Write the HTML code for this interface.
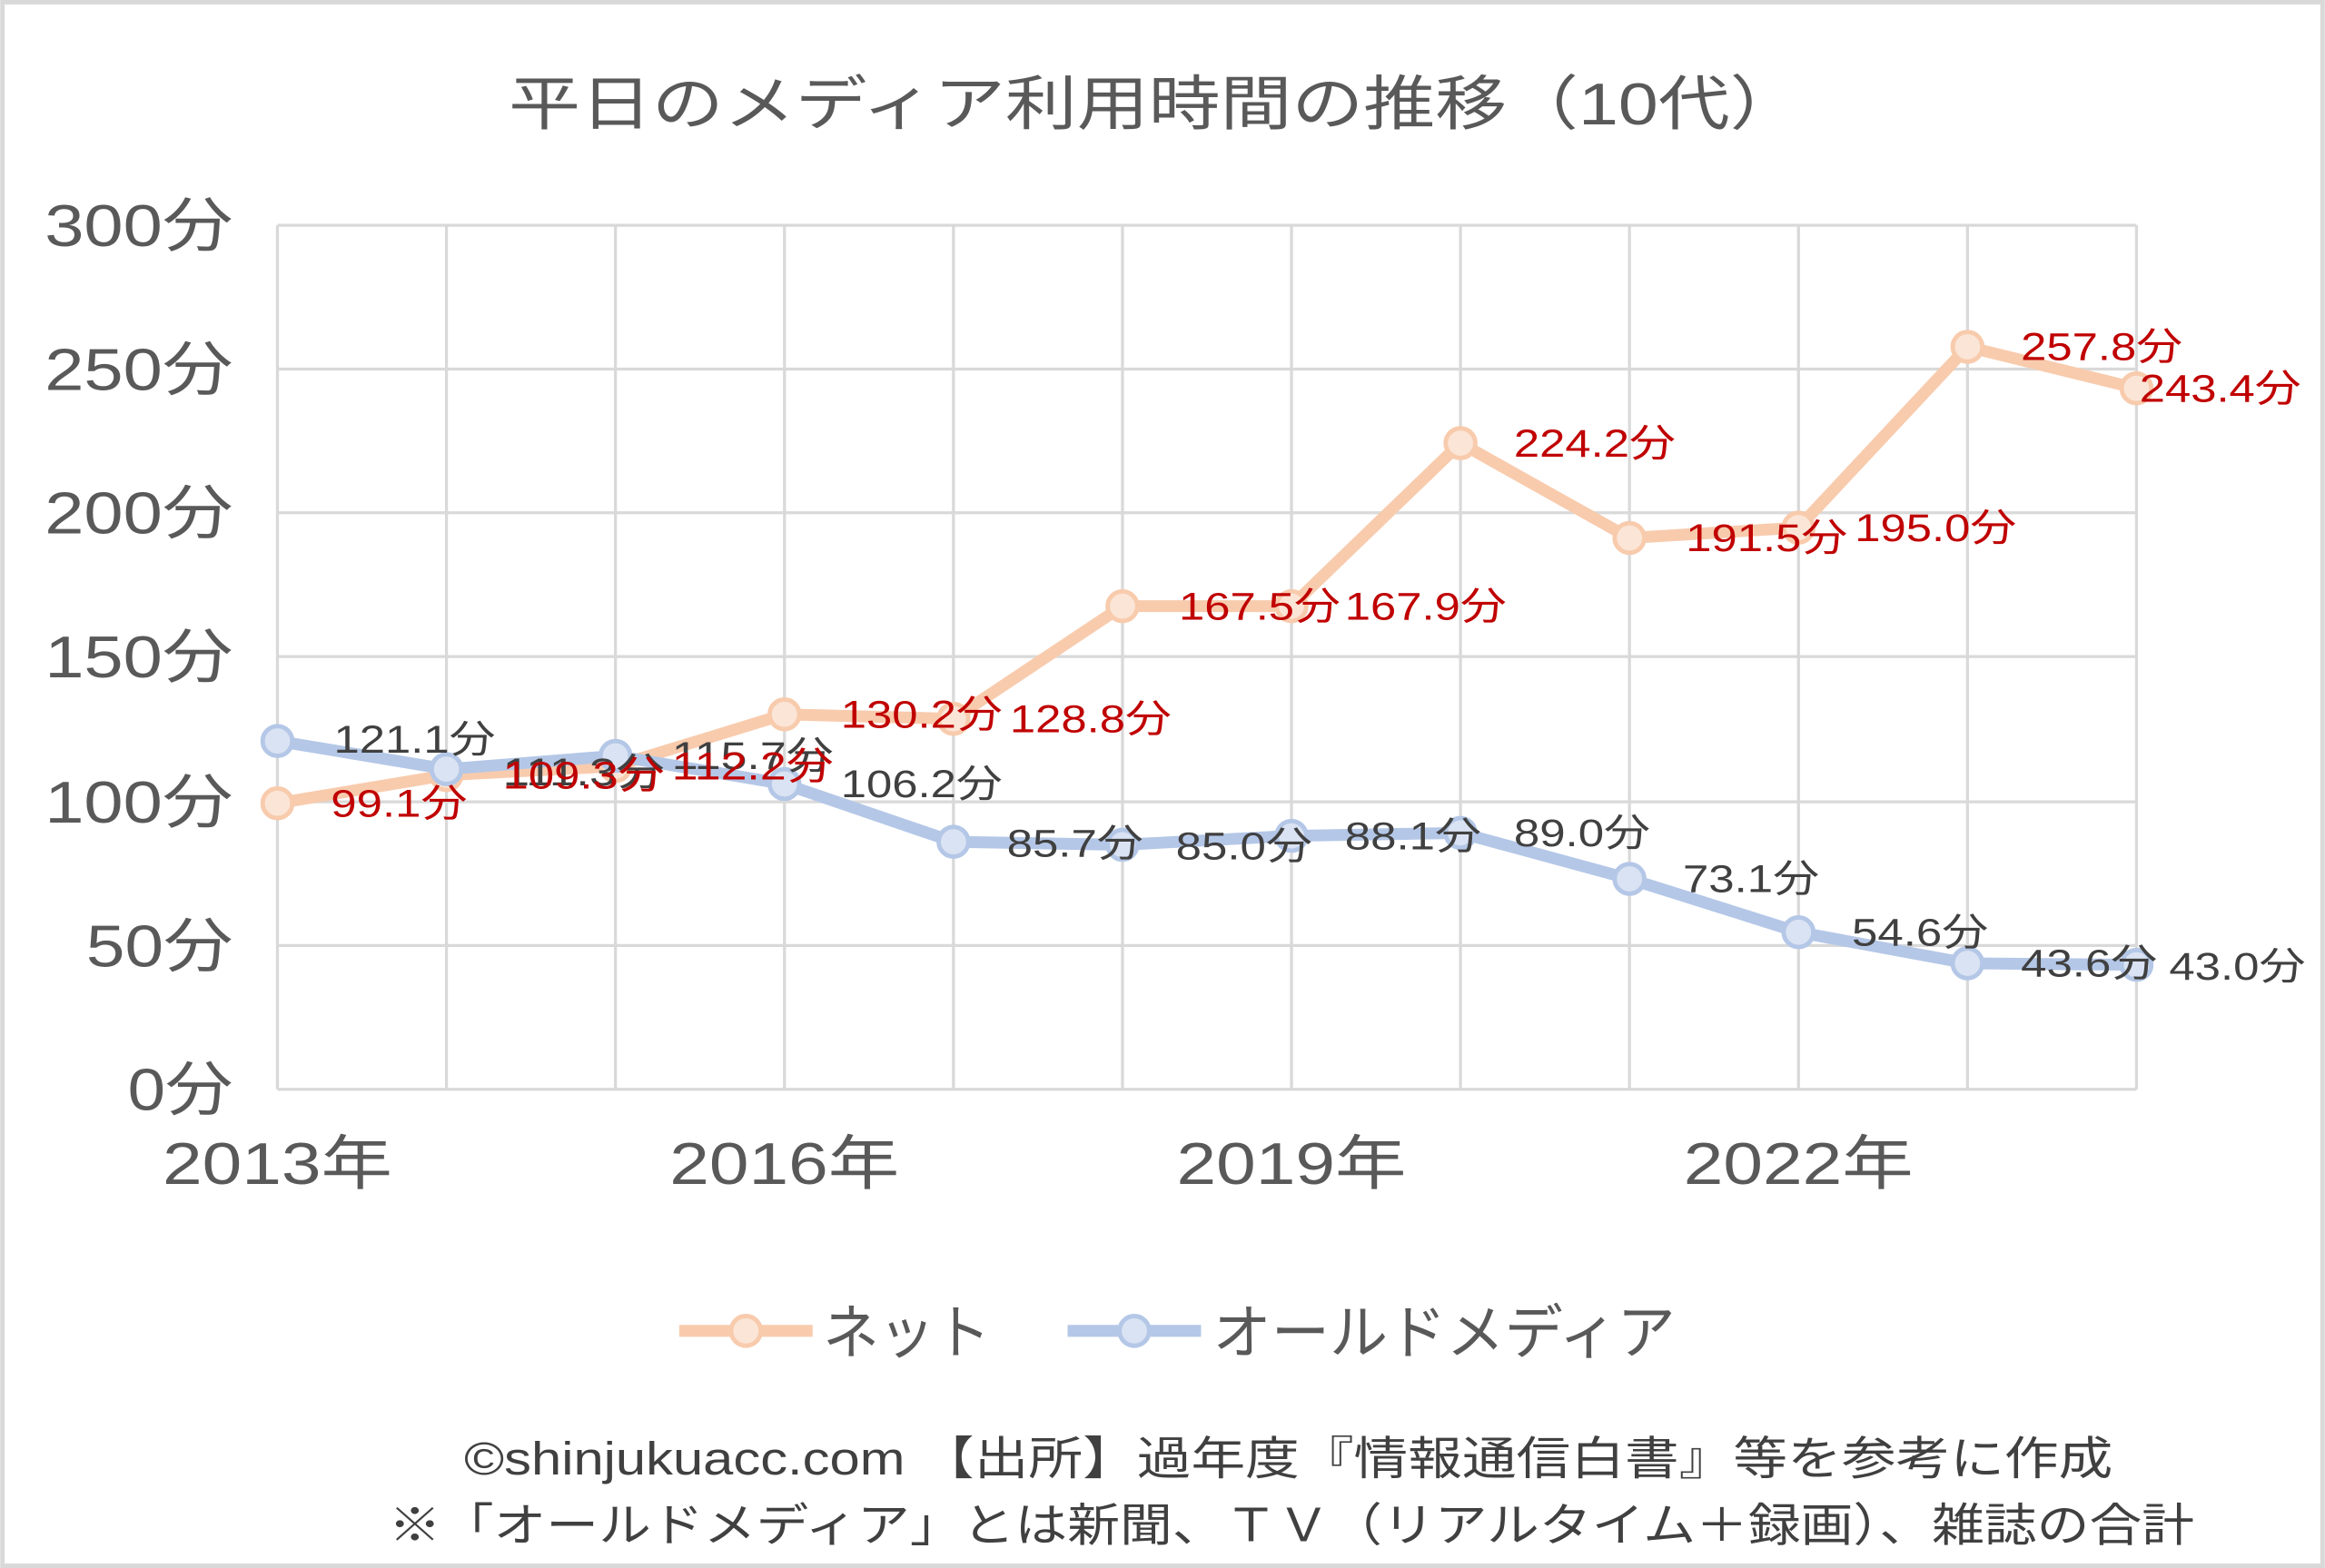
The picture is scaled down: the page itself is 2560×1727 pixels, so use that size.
<!DOCTYPE html>
<html><head><meta charset="utf-8"><style>
html,body{margin:0;padding:0;background:#fff}
svg{display:block}
text{font-family:"Liberation Sans","Noto Sans CJK JP",sans-serif}
</style></head><body>
<svg width="2560" height="1727" viewBox="0 0 1568 1058" xmlns="http://www.w3.org/2000/svg">
<rect x="1.5" y="1.5" width="1565" height="1055" fill="#fff" stroke="#d9d9d9" stroke-width="3"/>
<text x="343" y="84" font-size="40" fill="#595959" textLength="872" lengthAdjust="spacingAndGlyphs">平日のメディア利用時間の推移（10代）</text>
<g stroke="#d9d9d9" stroke-width="2">
<line x1="187" y1="152" x2="1441" y2="152"/>
<line x1="187" y1="249" x2="1441" y2="249"/>
<line x1="187" y1="346" x2="1441" y2="346"/>
<line x1="187" y1="443" x2="1441" y2="443"/>
<line x1="187" y1="541" x2="1441" y2="541"/>
<line x1="187" y1="638" x2="1441" y2="638"/>
<line x1="187" y1="735" x2="1441" y2="735"/>
<line x1="187" y1="152" x2="187" y2="735"/>
<line x1="301" y1="152" x2="301" y2="735"/><line x1="415" y1="152" x2="415" y2="735"/>
<line x1="529" y1="152" x2="529" y2="735"/><line x1="643" y1="152" x2="643" y2="735"/>
<line x1="757" y1="152" x2="757" y2="735"/><line x1="871" y1="152" x2="871" y2="735"/>
<line x1="985" y1="152" x2="985" y2="735"/><line x1="1099" y1="152" x2="1099" y2="735"/>
<line x1="1213" y1="152" x2="1213" y2="735"/><line x1="1327" y1="152" x2="1327" y2="735"/>
<line x1="1441" y1="152" x2="1441" y2="735"/>
</g>
<g font-size="40" fill="#595959" text-anchor="end">
<text x="157" y="166" textLength="127" lengthAdjust="spacingAndGlyphs">300分</text>
<text x="157" y="263" textLength="127" lengthAdjust="spacingAndGlyphs">250分</text>
<text x="157" y="360" textLength="127" lengthAdjust="spacingAndGlyphs">200分</text>
<text x="157" y="457" textLength="127" lengthAdjust="spacingAndGlyphs">150分</text>
<text x="157" y="555" textLength="127" lengthAdjust="spacingAndGlyphs">100分</text>
<text x="157" y="652" textLength="99" lengthAdjust="spacingAndGlyphs">50分</text>
<text x="157" y="749" textLength="71" lengthAdjust="spacingAndGlyphs">0分</text>
</g>
<g font-size="40" fill="#595959" text-anchor="middle">
<text x="187" y="799" textLength="155" lengthAdjust="spacingAndGlyphs">2013年</text><text x="529" y="799" textLength="155" lengthAdjust="spacingAndGlyphs">2016年</text>
<text x="871" y="799" textLength="155" lengthAdjust="spacingAndGlyphs">2019年</text><text x="1213" y="799" textLength="155" lengthAdjust="spacingAndGlyphs">2022年</text>
</g>
<polyline fill="none" stroke="#f8cbad" stroke-width="8" stroke-linejoin="round" points="187,542 301,523 415,517 529,482 643,485 757,409 871,409 985,299 1099,363 1213,356 1327,234 1441,262"/>
<polyline fill="none" stroke="#b4c7e7" stroke-width="8" stroke-linejoin="round" points="187,500 301,519 415,510 529,529 643,568 757,570 871,564 985,562 1099,593 1213,629 1327,650 1441,651"/>
<g fill="#fbe5d6" stroke="#f8cbad" stroke-width="3">
<circle cx="187" cy="542" r="10"/><circle cx="301" cy="523" r="10"/><circle cx="415" cy="517" r="10"/>
<circle cx="529" cy="482" r="10"/><circle cx="643" cy="485" r="10"/><circle cx="757" cy="409" r="10"/>
<circle cx="871" cy="409" r="10"/><circle cx="985" cy="299" r="10"/><circle cx="1099" cy="363" r="10"/>
<circle cx="1213" cy="356" r="10"/><circle cx="1327" cy="234" r="10"/><circle cx="1441" cy="262" r="10"/>
</g>
<g fill="#dae3f3" stroke="#b4c7e7" stroke-width="3">
<circle cx="187" cy="500" r="10"/><circle cx="301" cy="519" r="10"/><circle cx="415" cy="510" r="10"/>
<circle cx="529" cy="529" r="10"/><circle cx="643" cy="568" r="10"/><circle cx="757" cy="570" r="10"/>
<circle cx="871" cy="564" r="10"/><circle cx="985" cy="562" r="10"/><circle cx="1099" cy="593" r="10"/>
<circle cx="1213" cy="629" r="10"/><circle cx="1327" cy="650" r="10"/><circle cx="1441" cy="651" r="10"/>
</g>
<g font-size="26" fill="#404040">
<text x="225" y="508" textLength="109" lengthAdjust="spacingAndGlyphs">121.1分</text>
<text x="339" y="530" textLength="109" lengthAdjust="spacingAndGlyphs">111.3分</text>
<text x="453" y="519" textLength="109" lengthAdjust="spacingAndGlyphs">115.7分</text>
<text x="567" y="538" textLength="109" lengthAdjust="spacingAndGlyphs">106.2分</text>
<text x="679" y="578" textLength="92" lengthAdjust="spacingAndGlyphs">85.7分</text>
<text x="793" y="580" textLength="92" lengthAdjust="spacingAndGlyphs">85.0分</text>
<text x="907" y="573" textLength="92" lengthAdjust="spacingAndGlyphs">88.1分</text>
<text x="1021" y="571" textLength="92" lengthAdjust="spacingAndGlyphs">89.0分</text>
<text x="1135" y="602" textLength="92" lengthAdjust="spacingAndGlyphs">73.1分</text>
<text x="1249" y="638" textLength="92" lengthAdjust="spacingAndGlyphs">54.6分</text>
<text x="1363" y="659" textLength="92" lengthAdjust="spacingAndGlyphs">43.6分</text>
<text x="1463" y="661" textLength="92" lengthAdjust="spacingAndGlyphs">43.0分</text>
</g>
<g font-size="26" fill="#c00000">
<text x="223" y="551" textLength="92" lengthAdjust="spacingAndGlyphs">99.1分</text>
<text x="339" y="532" textLength="109" lengthAdjust="spacingAndGlyphs">109.3分</text>
<text x="453" y="526" textLength="109" lengthAdjust="spacingAndGlyphs">112.2分</text>
<text x="567" y="491" textLength="109" lengthAdjust="spacingAndGlyphs">130.2分</text>
<text x="681" y="494" textLength="109" lengthAdjust="spacingAndGlyphs">128.8分</text>
<text x="795" y="418" textLength="109" lengthAdjust="spacingAndGlyphs">167.5分</text>
<text x="907" y="418" textLength="109" lengthAdjust="spacingAndGlyphs">167.9分</text>
<text x="1021" y="308" textLength="109" lengthAdjust="spacingAndGlyphs">224.2分</text>
<text x="1137" y="372" textLength="109" lengthAdjust="spacingAndGlyphs">191.5分</text>
<text x="1251" y="365" textLength="109" lengthAdjust="spacingAndGlyphs">195.0分</text>
<text x="1363" y="243" textLength="109" lengthAdjust="spacingAndGlyphs">257.8分</text>
<text x="1443" y="271" textLength="109" lengthAdjust="spacingAndGlyphs">243.4分</text>
</g>
<line x1="458" y1="898" x2="548" y2="898" stroke="#f8cbad" stroke-width="8"/>
<circle cx="503" cy="898" r="10" fill="#fbe5d6" stroke="#f8cbad" stroke-width="3"/>
<text x="555" y="913" font-size="40" fill="#595959" textLength="113" lengthAdjust="spacingAndGlyphs">ネット</text>
<line x1="720" y1="898" x2="810" y2="898" stroke="#b4c7e7" stroke-width="8"/>
<circle cx="765" cy="898" r="10" fill="#dae3f3" stroke="#b4c7e7" stroke-width="3"/>
<text x="818" y="913" font-size="40" fill="#595959" textLength="312" lengthAdjust="spacingAndGlyphs">オールドメディア</text>
<text x="313" y="995" font-size="31" fill="#404040" textLength="1112" lengthAdjust="spacingAndGlyphs">©shinjukuacc.com 【出所】過年度『情報通信白書』等を参考に作成</text>
<text x="262" y="1040" font-size="31" fill="#404040" textLength="1218" lengthAdjust="spacingAndGlyphs">※「オールドメディア」とは新聞、ＴＶ（リアルタイム＋録画）、雑誌の合計</text>
</svg>
</body></html>
